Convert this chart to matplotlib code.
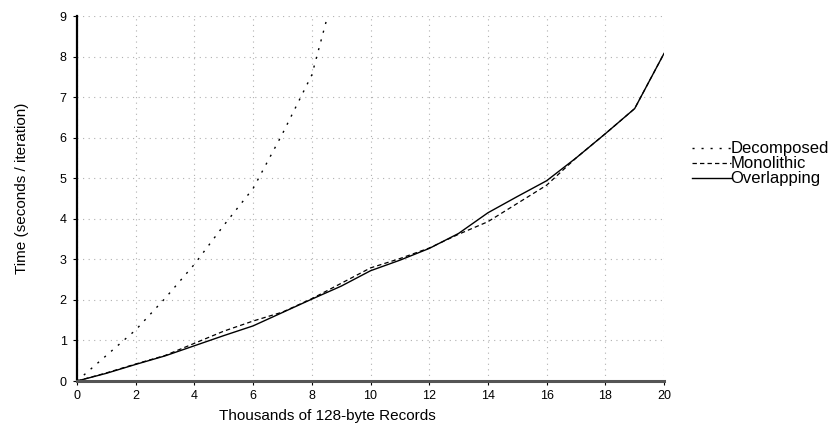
import matplotlib
matplotlib.use("Agg")
import matplotlib.pyplot as plt
import numpy as np

plt.rcParams["font.family"] = ["Liberation Sans", "DejaVu Sans"]

# data
decomposed_x = [0, 1, 2, 3, 4, 5, 6, 7, 8, 9]
decomposed_y = [0, 0.63, 1.26, 2.04, 2.88, 3.84, 4.75, 6.1, 7.55, 10.25]

records_x = [0, 1, 2, 3, 4, 5, 6, 7, 8, 9, 10, 11, 12, 13, 14, 15, 16, 17, 18, 19, 20]
monolithic_y = [0, 0.2, 0.42, 0.63, 0.93, 1.23, 1.48, 1.70, 2.03, 2.41, 2.79, 3.02, 3.28,
                3.62, 3.93, 4.38, 4.83, 5.5, 6.1, 6.72, 8.08]
overlapping_y = [0, 0.19, 0.41, 0.62, 0.87, 1.12, 1.36, 1.69, 2.02, 2.34, 2.72, 2.98, 3.27,
                 3.64, 4.15, 4.55, 4.94, 5.5, 6.1, 6.72, 8.08]

x_ticks = np.arange(0, 21, 2)
y_ticks = np.arange(0, 10, 1)

fig = plt.figure(figsize=(8.4, 4.25), dpi=100)
ax = fig.add_axes([0.0917, 0.1035, 0.6988, 0.8585])

ax.plot(decomposed_x, decomposed_y, color="black", lw=1.0, linestyle=(0, (1.5, 5)), label="Decomposed")
ax.plot(records_x, monolithic_y, color="black", lw=0.9, linestyle=(0, (3.5, 2.5)), label="Monolithic")
ax.plot(records_x, overlapping_y, color="black", lw=1.0, label="Overlapping")

ax.set_xlim(0, 20)
ax.set_ylim(0, 9)
ax.set_xticks(x_ticks)
ax.set_yticks(y_ticks)
ax.tick_params(labelsize=9, length=3, width=0.8, colors="black")
ax.tick_params(axis="y", pad=4.5)
ax.grid(True, color="#b0b0b0", linestyle=(0, (1, 4)), linewidth=0.8)
ax.set_axisbelow(True)

for side in ["top", "right"]:
    ax.spines[side].set_visible(False)
ax.spines["left"].set_linewidth(1.6)
ax.spines["left"].set_color("black")
ax.spines["bottom"].set_linewidth(2.2)
ax.spines["bottom"].set_color("#555555")

ax.set_xlabel("Thousands of 128-byte Records", fontsize=11)
ax.set_ylabel("Time (seconds / iteration)", fontsize=11)
ax.xaxis.set_label_coords(0.426, -0.078)
ax.yaxis.set_label_coords(-0.082, 0.527)

ax.legend(loc="center left", bbox_to_anchor=(1.034, 0.595), frameon=False, fontsize=12,
          handlelength=2.3, handletextpad=0.0, labelspacing=0.0, borderpad=0)

fig.savefig("out.png", dpi=100)
